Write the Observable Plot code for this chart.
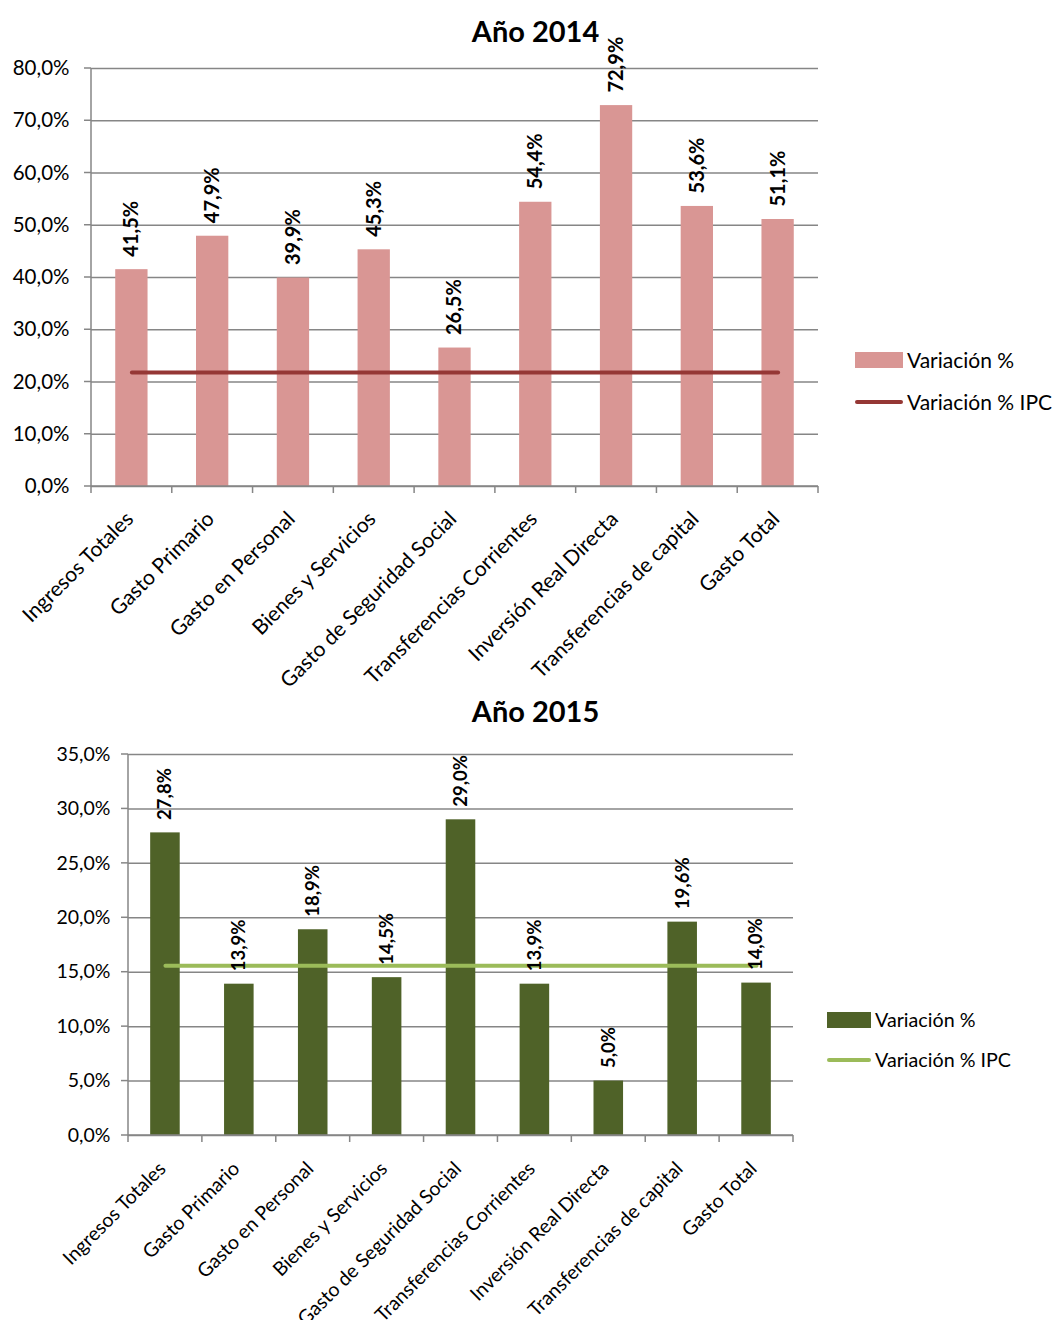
<!DOCTYPE html>
<html>
<head>
<meta charset="utf-8">
<script src="https://cdn.jsdelivr.net/npm/d3@7"></script>
<script src="https://cdn.jsdelivr.net/npm/@observablehq/plot@0.6"></script>
<style>
  body { margin: 0; background: #fff; }
  #root { position: relative; width: 1053px; height: 1320px; font-family: Lato, "Open Sans", sans-serif; color: #000; }
  .title { position: absolute; left: 0; width: 1071px; text-align: center; font-weight: bold; font-size: 29px; }
  .chart { position: absolute; left: 0; }
  .leg { position: absolute; font-size: 21px; display: flex; align-items: center; white-space: nowrap; }
  .sw { display: inline-block; margin-right: 4px; }
</style>
</head>
<body>
<div id="root">
  <div class="chart" id="c1" style="top:20px"></div>
  <div class="title" style="top:13px">Año 2014</div>
  <div class="leg" style="left:855px; top:347px"><span class="sw" style="width:48px;height:16px;background:#d99694"></span>Variación %</div>
  <div class="leg" style="left:855px; top:389px"><span class="sw" style="width:48px;height:4px;border-radius:2px;background:#953735"></span>Variación % IPC</div>

  <div class="chart" id="c2" style="top:735px"></div>
  <div class="title" style="top:693px">Año 2015</div>
  <div class="leg" style="left:827px; top:1008px; font-size:19.7px"><span class="sw" style="width:44px;height:16px;background:#4f6228"></span>Variación %</div>
  <div class="leg" style="left:827px; top:1048px; font-size:19.7px"><span class="sw" style="width:44px;height:4px;border-radius:2px;background:#9bbb59"></span>Variación % IPC</div>
</div>
<script>
const categories = ["Ingresos Totales", "Gasto Primario", "Gasto en Personal", "Bienes y Servicios", "Gasto de Seguridad Social", "Transferencias Corrientes", "Inversión Real Directa", "Transferencias de capital", "Gasto Total"];
const variacion2014 = [41.5, 47.9, 39.9, 45.3, 26.5, 54.4, 72.9, 53.6, 51.1];
const ipc2014 = 21.8;
const variacion2015 = [27.8, 13.9, 18.9, 14.5, 29.0, 13.9, 5.0, 19.6, 14.0];
const ipc2015 = 15.6;
const yTicks2014 = [0, 10, 20, 30, 40, 50, 60, 70, 80];
const yTicks2015 = [0, 5, 10, 15, 20, 25, 30, 35];

const fmt = d => d.toFixed(1).replace(".", ",") + "%";

function frameMarks(cats, yTicks) {
  return (index, scales, values, dims) => {
    const {x, y} = scales;
    const left = dims.marginLeft, right = dims.width - dims.marginRight;
    const top = dims.marginTop, bottom = dims.height - dims.marginBottom;
    const g = d3.create("svg:g").attr("stroke", "#868686").attr("stroke-width", 1.5).attr("fill", "none");
    g.append("line").attr("x1", left).attr("x2", left).attr("y1", top).attr("y2", bottom);
    g.append("line").attr("x1", left).attr("x2", right).attr("y1", bottom).attr("y2", bottom);
    for (const t of yTicks) {
      g.append("line").attr("x1", left - 7).attr("x2", left).attr("y1", y(t)).attr("y2", y(t));
    }
    const n = cats.length;
    const st = x.step ? x.step() : (right - left) / n;
    const bw = x.bandwidth ? x.bandwidth() : 0;
    const bounds = cats.map(c => x(c) + bw / 2 - st / 2);
    bounds.push(x(cats[n - 1]) + bw / 2 + st / 2);
    for (const b of bounds) {
      g.append("line").attr("x1", b).attr("x2", b).attr("y1", bottom).attr("y2", bottom + 7);
    }
    return g.node();
  };
}

function chart(opts) {
  const data = categories.map((c, i) => ({cat: c, v: opts.values[i], ipc: opts.ipc}));
  return Plot.plot({
    width: 1053,
    height: opts.height,
    marginLeft: opts.ml,
    marginRight: opts.mr,
    marginTop: opts.mt,
    marginBottom: opts.mb,
    style: {fontFamily: "Lato, 'Open Sans', sans-serif", color: "#000", background: "transparent", overflow: "visible"},
    x: {domain: categories, paddingInner: 0.6, paddingOuter: 0.3, round: false, label: null},
    y: {domain: opts.domain, label: null},
    marks: [
      Plot.gridY(opts.yTicks, {stroke: "#868686", strokeOpacity: 1, strokeWidth: 1.5}),
      Plot.barY(data, {x: "cat", y: "v", fill: opts.barColor}),
      Plot.line(data, {x: "cat", y: "ipc", stroke: opts.lineColor, strokeWidth: opts.lineWidth}),
      Plot.text(data, {x: "cat", y: "v", text: d => fmt(d.v), rotate: -90, textAnchor: "start", dy: -opts.labelGap, fontWeight: "bold", fontSize: opts.valueFont, fill: "#000"}),
      Plot.axisY({ticks: opts.yTicks, tickSize: 0, tickPadding: opts.yPad, tickFormat: fmt, fontSize: opts.yFont, fill: "#000"}),
      Plot.axisX({tickSize: 0, tickRotate: -45, tickPadding: opts.xPad, dx: opts.xdx, dy: opts.xdy, fontSize: opts.xFont, fill: "#000"}),
      frameMarks(categories, opts.yTicks)
    ]
  });
}

document.getElementById("c1").append(chart({
  values: variacion2014, ipc: ipc2014, domain: [0, 80], yTicks: yTicks2014,
  height: 680, ml: 91, mr: 235, mt: 48, mb: 214,
  barColor: "#d99694", lineColor: "#953735", lineWidth: 4,
  labelGap: 13, valueFont: 20, yFont: 20.5, yPad: 22, xFont: 21, xPad: 12, xdx: -2, xdy: 17
}));

document.getElementById("c2").append(chart({
  values: variacion2015, ipc: ipc2015, domain: [0, 35], yTicks: yTicks2015,
  height: 585, ml: 128, mr: 260, mt: 19, mb: 185,
  barColor: "#4f6228", lineColor: "#9bbb59", lineWidth: 4,
  labelGap: 13, valueFont: 18.5, yFont: 19.5, yPad: 18, xFont: 19.5, xPad: 12, xdx: -3, xdy: 18
}));
</script>
</body>
</html>
